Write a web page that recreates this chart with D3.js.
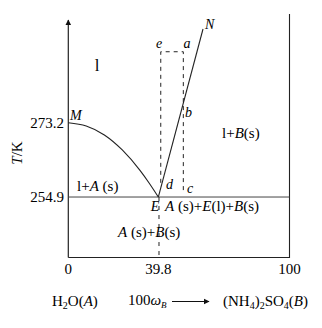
<!DOCTYPE html>
<html><head><meta charset="utf-8">
<script src="https://cdn.jsdelivr.net/npm/d3@7"></script>
<style>
html,body{margin:0;padding:0;background:#fff;}
text{font-family:"Liberation Serif","Times New Roman",serif;fill:#000;}
</style></head><body>
<svg id="c" width="322" height="328"></svg>
<script>
// composition (100 w_B) and temperature (K) values
const xTickValues = [0, 40.7, 100];
const xTickLabels = ["0", "39.8", "100"];
const yTickValues = [273.2, 254.9];
const yTickLabels = ["273.2", "254.9"];
// freezing curve of water M -> E
const curveME = [[0, 273.2], [8.1, 272.4], [16.3, 270.2], [24.4, 266.5], [32.5, 261.4], [36.6, 258.3], [40.7, 254.9]];
// solubility curve E -> N
const lineEN = [[40.7, 254.9], [60.9, 296.3]];
const eutecticT = 254.9;
// dashed paths
const dashE = [[41.8, 258.4], [41.8, 290.7], [52.0, 290.7], [52.0, 256.6]];
const dashBelowE = [[41.0, 254.9], [41.0, 240]];

const svg = d3.select("#c");
const x = d3.scaleLinear().domain([0, 100]).range([68.3, 289.5]);
const y = d3.scaleLinear().domain([240, 300]).range([257.5, 14]);
const line = d3.line().x(d => x(d[0])).y(d => y(d[1]));
const stroke = "#222";

// frame
svg.append("defs").append("marker").attr("id","arr").attr("viewBox","0 0 10 10")
  .attr("refX",9).attr("refY",5).attr("markerWidth",6).attr("markerHeight",7)
  .attr("markerUnits","userSpaceOnUse").attr("orient","auto")
  .append("path").attr("d","M0,0L10,5L0,10z").attr("fill","#111");
svg.append("line").attr("x1", x(0)).attr("x2", x(0)).attr("y1", y(240)).attr("y2", 20)
  .attr("stroke", stroke).attr("stroke-width", 1.2).attr("marker-end","url(#arr)");
svg.append("path").attr("d", line([[0,240],[100,240],[100,300]]))
  .attr("fill","none").attr("stroke", stroke).attr("stroke-width", 1.1);

// eutectic horizontal
svg.append("path").attr("d", line([[0, eutecticT],[100, eutecticT]]))
  .attr("fill","none").attr("stroke","#444").attr("stroke-width",1);

// curves
svg.append("path").attr("d", d3.line().x(d=>x(d[0])).y(d=>y(d[1])).curve(d3.curveMonotoneX)(curveME))
  .attr("fill","none").attr("stroke", stroke).attr("stroke-width",1.1);
svg.append("path").attr("d", line(lineEN))
  .attr("fill","none").attr("stroke", stroke).attr("stroke-width",1.1);

// dashed
svg.append("path").attr("d", line(dashE)).attr("fill","none").attr("stroke", stroke)
  .attr("stroke-width",1).attr("stroke-dasharray","4,4");
svg.append("path").attr("d", line(dashBelowE)).attr("fill","none").attr("stroke", stroke)
  .attr("stroke-width",1).attr("stroke-dasharray","4,5");

// tick labels
xTickValues.forEach((v,i) => {
  svg.append("text").attr("x", x(v)).attr("y", 274).attr("text-anchor","middle")
    .attr("font-size",15).text(xTickLabels[i]);
});
yTickValues.forEach((v,i) => {
  svg.append("text").attr("x", 64).attr("y", y(v) + 5).attr("text-anchor","end")
    .attr("font-size",15).text(yTickLabels[i]);
});

// axis title
svg.append("text").attr("transform","translate(22,153) rotate(-90)").attr("text-anchor","middle")
  .attr("font-size",15).html('<tspan font-style="italic">T</tspan>/K');

function lab(px, py, html, opts={}) {
  svg.append("text").attr("x", px).attr("y", py).attr("font-size", opts.size || 15)
    .attr("text-anchor", opts.anchor || "start").attr("fill","#000")
    .attr("font-style", opts.italic ? "italic" : null).html(html);
}
const I = s => '<tspan font-style="italic">' + s + '</tspan>';

lab(97, 71, "l", {anchor:"middle", size:17});
lab(70, 120, "M", {italic:true, size:14});
lab(205, 29, "N", {italic:true, size:14});
lab(159, 48, "e", {italic:true, size:14, anchor:"middle"});
lab(187, 48, "a", {italic:true, size:14, anchor:"middle"});
lab(185, 117, "b", {italic:true, size:14});
lab(166, 189, "d", {italic:true, size:14});
lab(187, 193, "c", {italic:true, size:14});
lab(155, 211, "E", {italic:true, size:14, anchor:"middle"});
lab(77, 191, "l+" + I("A") + " (s)");
lab(222, 138, "l+" + I("B") + "(s)");
lab(165, 211, I("A") + " (s)+" + I("E") + "(l)+" + I("B") + "(s)");
lab(118, 237, I("A") + " (s)+" + I("B") + "(s)");

// bottom title
lab(52, 306, 'H<tspan font-size="10" dy="3">2</tspan><tspan dy="-3">O(</tspan>' + I("A") + ")");
lab(128, 305, '100' + I('ω') + '<tspan font-size="9" dy="3" font-style="italic">B</tspan>');
svg.append("line").attr("x1",172).attr("x2",209).attr("y1",301.5).attr("y2",301.5)
  .attr("stroke","#111").attr("stroke-width",1).attr("marker-end","url(#arr)");
lab(223, 306, '(NH<tspan font-size="10" dy="3">4</tspan><tspan dy="-3">)</tspan><tspan font-size="10" dy="3">2</tspan><tspan dy="-3">SO</tspan><tspan font-size="10" dy="3">4</tspan><tspan dy="-3">(</tspan>' + I("B") + ")");
</script>
</body></html>
